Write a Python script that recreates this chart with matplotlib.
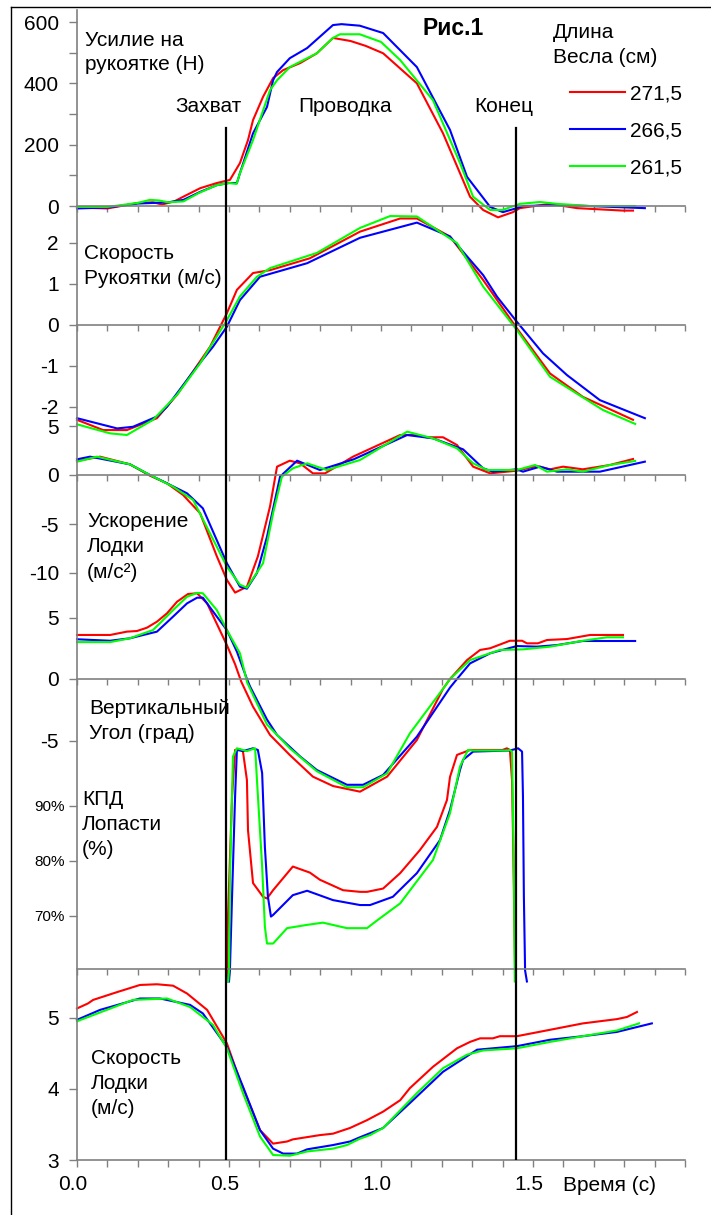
import matplotlib.pyplot as plt
import matplotlib.transforms as mtrans
from matplotlib.ticker import MultipleLocator, FixedLocator

plt.rcParams['font.family'] = ['Liberation Sans', 'DejaVu Sans']
plt.rcParams['axes.unicode_minus'] = False

# длины весла и цвета серий
OAR_LABELS = ['271,5', '266,5', '261,5']
COLORS = ['#ff0000', '#0000ff', '#00ff00']

# моменты захвата и конца проводки (с)
CATCH_T = 0.49
FINISH_T = 1.444

# Усилие на рукоятке (Н)
force_red_t = [0, 0.10, 0.20, 0.25, 0.28, 0.32, 0.349, 0.405, 0.46, 0.503, 0.536, 0.5625, 0.579, 0.612, 0.645, 0.678, 0.734, 0.789, 0.842, 0.90, 0.95, 1.007, 1.118, 1.204, 1.293, 1.336, 1.385, 1.434, 1.457, 1.556, 1.645, 1.796, 1.829]
force_red = [-5, -8, 10, 12, 5, 15, 30, 58, 75, 85, 140, 215, 280, 356, 417, 443, 466, 498, 548, 538, 522, 498, 400, 237, 30, -13, -37, -20, -7, 7, -7, -15, -15]
force_blue_t = [0, 0.10, 0.20, 0.30, 0.35, 0.405, 0.46, 0.50, 0.526, 0.536, 0.579, 0.625, 0.645, 0.658, 0.70, 0.757, 0.842, 0.87, 0.93, 1.007, 1.118, 1.227, 1.283, 1.359, 1.401, 1.447, 1.467, 1.60, 1.868]
force_blue = [-8, -5, 8, 12, 20, 46, 68, 75, 75, 107, 237, 323, 410, 437, 482, 515, 590, 593, 588, 564, 453, 248, 95, -3, -20, -7, 0, 3, -7]
force_green_t = [0, 0.10, 0.20, 0.24, 0.27, 0.30, 0.35, 0.40, 0.46, 0.50, 0.525, 0.536, 0.579, 0.635, 0.658, 0.70, 0.789, 0.842, 0.865, 0.93, 1.00, 1.063, 1.171, 1.26, 1.303, 1.359, 1.40, 1.457, 1.523, 1.579, 1.688, 1.836]
force_green = [-3, -3, 10, 20, 18, 12, 15, 42, 68, 75, 72, 107, 215, 378, 410, 453, 498, 548, 560, 560, 535, 476, 345, 140, 30, -13, -13, 7, 13, 7, 0, 0]

# Скорость рукоятки (м/с)
hvel_red_t = [0, 0.086, 0.164, 0.263, 0.329, 0.4375, 0.493, 0.526, 0.579, 0.635, 0.766, 0.931, 1.063, 1.118, 1.227, 1.336, 1.447, 1.556, 1.664, 1.829]
hvel_red = [-2.32, -2.57, -2.57, -2.28, -1.71, -0.54, 0.28, 0.85, 1.26, 1.33, 1.62, 2.27, 2.59, 2.59, 2.15, 1.09, -0.09, -1.19, -1.76, -2.32]
hvel_blue_t = [0, 0.132, 0.184, 0.263, 0.296, 0.395, 0.447, 0.493, 0.536, 0.602, 0.757, 0.931, 1.118, 1.227, 1.336, 1.382, 1.447, 1.533, 1.612, 1.72, 1.868]
hvel_blue = [-2.28, -2.53, -2.49, -2.24, -2.0, -1.02, -0.54, -0.05, 0.6, 1.17, 1.50, 2.12, 2.49, 2.15, 1.21, 0.68, 0.07, -0.70, -1.23, -1.84, -2.28]
hvel_green_t = [0, 0.109, 0.164, 0.25, 0.329, 0.405, 0.493, 0.536, 0.592, 0.635, 0.789, 0.931, 1.03, 1.118, 1.25, 1.336, 1.447, 1.556, 1.73, 1.836]
hvel_green = [-2.43, -2.65, -2.69, -2.32, -1.71, -0.94, 0.11, 0.69, 1.17, 1.38, 1.75, 2.36, 2.65, 2.64, 1.99, 0.93, -0.13, -1.27, -2.08, -2.42]

# Ускорение лодки (м/с2)
acc_red_t = [0, 0.076, 0.174, 0.24, 0.296, 0.349, 0.405, 0.46, 0.493, 0.52, 0.559, 0.595, 0.635, 0.658, 0.70, 0.734, 0.776, 0.816, 0.908, 1.063, 1.118, 1.151, 1.204, 1.25, 1.303, 1.359, 1.447, 1.513, 1.556, 1.599, 1.664, 1.753, 1.829]
acc_red = [1.43, 1.87, 1.09, -0.07, -0.85, -2.04, -3.9, -8.3, -10.7, -12.0, -11.4, -8.3, -3.2, 0.85, 1.46, 1.19, 0.17, 0.17, 1.87, 4.08, 4.08, 3.85, 3.85, 3.06, 0.85, 0.17, 0.44, 0.92, 0.58, 0.85, 0.58, 1.02, 1.63]
acc_blue_t = [0, 0.043, 0.174, 0.24, 0.296, 0.362, 0.414, 0.493, 0.536, 0.559, 0.592, 0.625, 0.668, 0.724, 0.799, 0.91, 1.086, 1.171, 1.27, 1.336, 1.368, 1.447, 1.467, 1.523, 1.579, 1.72, 1.868]
acc_blue = [1.6, 1.87, 1.09, 0, -0.85, -1.87, -3.4, -9.0, -11.4, -11.6, -10.0, -6.3, -0.17, 1.46, 0.51, 1.6, 4.08, 3.74, 2.62, 0.68, 0.34, 0.58, 0.34, 0.85, 0.34, 0.34, 1.36]
acc_green_t = [0, 0.066, 0.174, 0.24, 0.316, 0.382, 0.493, 0.536, 0.559, 0.612, 0.645, 0.674, 0.71, 0.757, 0.822, 0.931, 1.086, 1.171, 1.25, 1.303, 1.349, 1.447, 1.507, 1.546, 1.612, 1.664, 1.753, 1.836]
acc_green = [1.36, 1.87, 1.09, 0, -1.19, -2.55, -9.35, -11.2, -11.5, -9.0, -3.9, -0.17, 0.68, 1.19, 0.51, 1.53, 4.42, 3.74, 2.72, 1.19, 0.51, 0.51, 1.02, 0.34, 0.58, 0.34, 1.02, 1.43]

# Вертикальный угол (град)
ang_red_t = [0, 0.109, 0.164, 0.197, 0.23, 0.263, 0.296, 0.329, 0.365, 0.395, 0.428, 0.493, 0.52, 0.54, 0.579, 0.635, 0.70, 0.776, 0.842, 0.90, 0.931, 1.02, 1.118, 1.204, 1.227, 1.283, 1.326, 1.359, 1.424, 1.464, 1.48, 1.516, 1.546, 1.612, 1.688, 1.796]
ang_red = [3.58, 3.58, 3.85, 3.9, 4.17, 4.66, 5.34, 6.28, 6.91, 6.97, 6.15, 2.76, 1.2, -0.2, -2.25, -4.55, -6.18, -7.94, -8.7, -9.0, -9.16, -7.94, -4.96, -0.8, 0.0, 1.54, 2.36, 2.5, 3.11, 3.11, 2.9, 2.9, 3.17, 3.25, 3.58, 3.58]
ang_blue_t = [0, 0.109, 0.174, 0.263, 0.316, 0.362, 0.395, 0.414, 0.46, 0.493, 0.526, 0.559, 0.569, 0.625, 0.658, 0.734, 0.789, 0.888, 0.941, 1.007, 1.118, 1.227, 1.25, 1.293, 1.359, 1.447, 1.513, 1.579, 1.664, 1.836]
ang_blue = [3.23, 3.11, 3.31, 3.85, 5.07, 6.15, 6.61, 6.61, 5.07, 3.98, 2.22, 0, -0.6, -3.3, -4.55, -6.3, -7.4, -8.6, -8.6, -7.8, -4.69, -0.7, 0, 1.27, 2.09, 2.68, 2.63, 2.76, 3.09, 3.09]
ang_green_t = [0, 0.109, 0.174, 0.25, 0.316, 0.362, 0.395, 0.414, 0.46, 0.493, 0.536, 0.56, 0.625, 0.70, 0.789, 0.888, 0.941, 1.02, 1.095, 1.21, 1.227, 1.293, 1.391, 1.467, 1.556, 1.664, 1.743, 1.796]
ang_green = [3.0, 3.0, 3.31, 3.98, 5.6, 6.69, 7.0, 6.97, 5.6, 3.98, 2.09, -0.3, -3.7, -5.63, -7.5, -8.8, -8.8, -7.67, -4.42, -0.6, 0, 1.54, 2.36, 2.41, 2.63, 3.11, 3.39, 3.39]

# КПД лопасти (%)
eff_red_t = [0.493, 0.497, 0.51, 0.52, 0.536, 0.546, 0.559, 0.5625, 0.579, 0.612, 0.625, 0.645, 0.71, 0.766, 0.799, 0.875, 0.931, 0.954, 1.007, 1.063, 1.128, 1.184, 1.217, 1.227, 1.25, 1.293, 1.40, 1.414, 1.424, 1.431, 1.434, 1.441, 1.444]
eff_red = [58, 70.4, 91.6, 100.1, 100.2, 99.8, 94.6, 85.5, 75.9, 73.4, 73.1, 74.6, 78.9, 77.8, 76.5, 74.6, 74.3, 74.3, 74.9, 77.7, 81.9, 86.1, 91, 95.2, 99.2, 100.1, 100.1, 100.4, 100.1, 94.6, 85.5, 60.7, 58]
eff_blue_t = [0.50, 0.503, 0.51, 0.52, 0.526, 0.546, 0.579, 0.595, 0.609, 0.618, 0.628, 0.638, 0.645, 0.71, 0.757, 0.842, 0.931, 0.964, 1.039, 1.118, 1.194, 1.227, 1.26, 1.27, 1.303, 1.424, 1.451, 1.464, 1.467, 1.47, 1.474, 1.48]
eff_blue = [58, 60.1, 73.4, 91.6, 100.1, 99.9, 100.4, 100.1, 95.9, 82.5, 73.4, 69.8, 70.1, 73.7, 74.5, 72.8, 71.9, 71.9, 73.4, 77.7, 83.7, 89.2, 96.5, 98.3, 99.8, 100, 100.4, 99.8, 91.6, 73.4, 60, 58]
eff_green_t = [0.497, 0.50, 0.503, 0.513, 0.526, 0.559, 0.586, 0.592, 0.609, 0.618, 0.625, 0.645, 0.691, 0.757, 0.809, 0.888, 0.931, 0.954, 0.987, 1.063, 1.171, 1.227, 1.26, 1.286, 1.303, 1.414, 1.424, 1.431, 1.4375, 1.44]
eff_green = [58, 60, 76.5, 98.9, 100.4, 99.9, 100.4, 94.6, 78.9, 68, 64.9, 64.9, 67.7, 68.3, 68.7, 67.7, 67.7, 67.7, 69.1, 72.2, 80.1, 88.6, 97.1, 100.1, 100, 100, 100.1, 99.8, 76.5, 58]

# Скорость лодки (м/с)
bvel_red_t = [0, 0.036, 0.053, 0.132, 0.207, 0.263, 0.316, 0.362, 0.428, 0.493, 0.536, 0.602, 0.645, 0.691, 0.71, 0.799, 0.842, 0.898, 0.954, 1.007, 1.063, 1.095, 1.171, 1.25, 1.293, 1.326, 1.368, 1.391, 1.447, 1.556, 1.664, 1.776, 1.809, 1.842]
bvel_red = [5.13, 5.2, 5.25, 5.36, 5.46, 5.47, 5.45, 5.34, 5.11, 4.64, 4.12, 3.42, 3.23, 3.26, 3.29, 3.35, 3.37, 3.45, 3.56, 3.68, 3.84, 4.01, 4.31, 4.57, 4.66, 4.71, 4.71, 4.74, 4.74, 4.83, 4.92, 4.98, 5.01, 5.08]
bvel_blue_t = [0, 0.076, 0.207, 0.273, 0.372, 0.414, 0.493, 0.546, 0.602, 0.645, 0.678, 0.724, 0.757, 0.842, 0.898, 0.931, 1.007, 1.095, 1.204, 1.316, 1.447, 1.556, 1.664, 1.776, 1.891]
bvel_blue = [4.97, 5.11, 5.27, 5.27, 5.18, 5.06, 4.59, 4.03, 3.42, 3.16, 3.09, 3.09, 3.15, 3.21, 3.26, 3.32, 3.45, 3.80, 4.24, 4.55, 4.60, 4.69, 4.74, 4.80, 4.92]
bvel_green_t = [0, 0.184, 0.296, 0.372, 0.447, 0.493, 0.546, 0.602, 0.645, 0.70, 0.757, 0.842, 0.888, 0.931, 0.964, 1.007, 1.118, 1.204, 1.283, 1.336, 1.447, 1.556, 1.664, 1.776, 1.849]
bvel_green = [4.95, 5.25, 5.27, 5.15, 4.9, 4.57, 3.94, 3.33, 3.07, 3.06, 3.12, 3.16, 3.21, 3.30, 3.35, 3.45, 3.94, 4.29, 4.48, 4.54, 4.57, 4.66, 4.74, 4.82, 4.92]

# размеры картинки в пикселях
W, H = 711, 1215
X0, X1 = 77, 685        # где на картинке t=0 и t=2.0
GRAY = '#808080'
FS = 15

fig = plt.figure(figsize=(W / 100, H / 100), dpi=100)


def panel(top, bottom, y_px, y_val, px_per_unit, zero_spine=True):
    # полоса графика: top/bottom в пикселях, масштаб по одной опорной отметке
    ax = fig.add_axes([X0 / W, 1 - bottom / H, (X1 - X0) / W, (bottom - top) / H])
    ax.set_xlim(0, 2.0)
    ax.set_ylim(y_val - (bottom - y_px) / px_per_unit, y_val + (y_px - top) / px_per_unit)
    ax.patch.set_visible(False)
    for s in ('top', 'right', 'left'):
        ax.spines[s].set_visible(False)
    ax.spines['bottom'].set_color(GRAY)
    ax.spines['bottom'].set_linewidth(1.2)
    if zero_spine:
        ax.spines['bottom'].set_position(('data', 0))
    ax.xaxis.set_major_locator(MultipleLocator(0.1))
    ax.tick_params(axis='x', which='both', direction='out', length=4, width=1, color=GRAY, labelbottom=False)
    ax.tick_params(axis='y', which='both', direction='out', length=6, width=1, color=GRAY, labelsize=FS, pad=7)
    return ax


ax1 = panel(10, 206, 206, 0, 184 / 600)
ax1.set_yticks([0, 200, 400, 600], ['0', '200', '400', '600'])
ax1.set_yticks([100, 300, 500], minor=True)

ax2 = panel(206, 430, 324.7, 0, 41)
ax2.set_yticks([-2, -1, 0, 1, 2], ['-2', '-1', '0', '1', '2'])

ax3 = panel(420, 600, 475, 0, 9.8)
ax3.set_yticks([-10, -5, 0, 5], ['-10', '-5', '0', '5'])

ax4 = panel(600, 760, 679, 0, 12.3)
ax4.set_yticks([-5, 0, 5], ['-5', '0', '5'])

ax5 = panel(760, 969, 805.5, 90, 5.5, zero_spine=False)
ax5.set_yticks([70, 80, 90], ['70%', '80%', '90%'])
ax5.tick_params(axis='y', labelsize=11, pad=3)

ax6 = panel(969, 1160, 1160, 3, 71.15, zero_spine=False)
ax6.set_yticks([3, 4, 5], ['3', '4', '5'])
ax6.xaxis.set_major_locator(FixedLocator([0, 0.5, 1.0, 1.5]))
ax6.xaxis.set_minor_locator(MultipleLocator(0.1))
ax6.set_xticklabels(['0.0', '0.5', '1.0', '1.5'])
ax6.tick_params(axis='x', which='both', length=5, labelbottom=True, labelsize=FS, pad=6)
shift = mtrans.ScaledTranslation(-4 / 100, 0, fig.dpi_scale_trans)
for lab in ax6.get_xticklabels():
    lab.set_transform(lab.get_transform() + shift)

panels = [
    (ax1, [(force_red_t, force_red), (force_blue_t, force_blue), (force_green_t, force_green)]),
    (ax2, [(hvel_red_t, hvel_red), (hvel_blue_t, hvel_blue), (hvel_green_t, hvel_green)]),
    (ax3, [(acc_red_t, acc_red), (acc_blue_t, acc_blue), (acc_green_t, acc_green)]),
    (ax4, [(ang_red_t, ang_red), (ang_blue_t, ang_blue), (ang_green_t, ang_green)]),
    (ax5, [(eff_red_t, eff_red), (eff_blue_t, eff_blue), (eff_green_t, eff_green)]),
    (ax6, [(bvel_red_t, bvel_red), (bvel_blue_t, bvel_blue), (bvel_green_t, bvel_green)]),
]
handles = []
for ax, series in panels:
    for (t, v), c in zip(series, COLORS):
        ln, = ax.plot(t, v, color=c, lw=1.5, clip_on=False)
        if ax is ax1:
            handles.append(ln)

# общая ось Y и линии захвата / конца
ov = fig.add_axes([X0 / W, 1 - 1160 / H, (X1 - X0) / W, (1160 - 10) / H])
ov.set_xlim(0, 2.0)
ov.set_ylim(0, 1)
ov.patch.set_visible(False)
for s in ('top', 'right', 'bottom'):
    ov.spines[s].set_visible(False)
ov.spines['left'].set_color(GRAY)
ov.spines['left'].set_linewidth(1.2)
ov.set_xticks([])
ov.set_yticks([])
top_frac = (1160 - 128) / (1160 - 10)
ov.axvline(CATCH_T, 0, top_frac, color='black', lw=1.6)
ov.axvline(FINISH_T, 0, top_frac, color='black', lw=1.6)

# рамка
fig.add_artist(plt.Line2D([11 / W, 11 / W], [0, 1 - 7 / H], transform=fig.transFigure, color='black', lw=1))
fig.add_artist(plt.Line2D([11 / W, 1], [1 - 7 / H, 1 - 7 / H], transform=fig.transFigure, color='black', lw=1))


def put(x, y, s, size=FS, **kw):
    # y - середина строки в пикселях
    fig.text(x / W, 1 - (y + 6) / H, s, fontsize=size, va='baseline', **kw)


def put_lines(x, y, lines, step=25):
    for i, s in enumerate(lines):
        put(x, y + i * step, s)


put_lines(85, 40, ['Усилие на', 'рукоятке (Н)'], 24.5)
put_lines(84, 253, ['Скорость', 'Рукоятки (м/с)'], 24.5)
put_lines(87, 521, ['Ускорение', 'Лодки', '(м/с²)'], 25.5)
put_lines(89, 708, ['Вертикальный', 'Угол (град)'], 25)
put_lines(82, 799, ['КПД', 'Лопасти', '(%)'], 25)
put_lines(91, 1058, ['Скорость', 'Лодки', '(м/с)'], 25)
put_lines(553, 32, ['Длина', 'Весла (см)'], 25)
put(563, 1185, 'Время (с)')
put(208, 106, 'Захват', ha='center')
put(345, 106, 'Проводка', ha='center')
put(504, 106, 'Конец', ha='center')
put(453, 29, 'Рис.1', size=16.5, ha='center', fontweight='bold')

fig.legend(handles, OAR_LABELS, loc='upper left', bbox_to_anchor=(570 / W, 1 - 84.5 / H),
           frameon=False, fontsize=FS, handlelength=2.65, handletextpad=0.25,
           labelspacing=0.87, borderpad=0, borderaxespad=0)

fig.savefig('out.png', dpi=100)
